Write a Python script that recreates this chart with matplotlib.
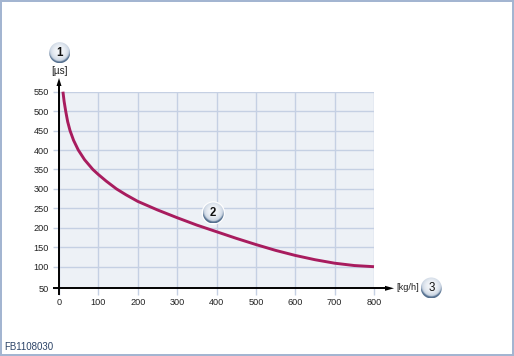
import numpy as np
import matplotlib
matplotlib.use("Agg")
import matplotlib.pyplot as plt
from matplotlib.patches import Circle, Rectangle

x_values = [10, 13, 17, 22, 28, 37, 49, 65, 86, 100, 120, 146, 170, 200, 250, 300, 350, 400, 450, 500, 550, 600, 650, 700, 750, 800]
y_values = [550, 525, 500, 473, 450, 425, 400, 375, 350, 337, 320, 300, 285, 268, 246, 226, 207, 190, 173, 157, 142, 129, 118, 109, 103, 100]
x_ticks = [0, 100, 200, 300, 400, 500, 600, 700, 800]
y_ticks = [100, 150, 200, 250, 300, 350, 400, 450, 500, 550]
y_axis_bottom_label = "50"
x_unit = "[kg/h]"
y_unit = "[µs]"
footer = "FB1108030"
badges = [("1", 59.7, 52.7, "bold"), ("2", 213.3, 213, "bold"), ("3", 431.3, 288, "normal")]

W, H = 514, 356
plt.rcParams["font.family"] = ["Liberation Sans", "DejaVu Sans"]
fig = plt.figure(figsize=(W / 100, H / 100), dpi=100, facecolor="white")

page = fig.add_axes([0, 0, 1, 1], zorder=0)
page.set_xlim(0, W)
page.set_ylim(H, 0)
page.axis("off")
border = "#a3b5d1"
page.add_patch(Rectangle((0, 0), 2, H, color=border, lw=0))
page.add_patch(Rectangle((512, 0), 2, H, color=border, lw=0))
page.add_patch(Rectangle((0, 353.5), W, 2.5, color=border, lw=0))
page.add_patch(Rectangle((0, 0), W, 2, color=border, lw=0))
page.text(4, 346.7, footer, fontsize=7.0, color="#2c4468", ha="left", va="center")

L, R, T, B = 59, 374, 91.7, 288.3
ax = fig.add_axes([L / W, 1 - B / H, (R - L) / W, (B - T) / H], zorder=1)
ax.set_facecolor("#edf1f6")
bottom = 100 - (B - 266.7) / ((266.7 - T) / 450)
ax.set_xlim(0, 800)
ax.set_ylim(bottom, 550)
for s in ax.spines.values():
    s.set_visible(False)

ax.set_xticks(x_ticks)
ax.set_xticklabels([str(t) for t in x_ticks], fontsize=6.6, color="#222222")
ax.set_yticks([bottom] + y_ticks)
ax.set_yticklabels([y_axis_bottom_label] + [str(t) for t in y_ticks], fontsize=6.6, color="#222222")
ax.tick_params(axis="x", length=5, width=1, color="#c5d0e3", pad=2)
ax.tick_params(axis="y", length=4.3, width=1, color="#c5d0e3", pad=2.9)
ax.grid(True, color="#c5d0e3", lw=1)
ax.set_axisbelow(True)
ax.plot(x_values, y_values, color="#a81c5e", lw=2.1, solid_capstyle="butt", solid_joinstyle="round", zorder=3, clip_on=False)

top = fig.add_axes([0, 0, 1, 1], zorder=2)
top.set_xlim(0, W)
top.set_ylim(H, 0)
top.axis("off")
top.patch.set_alpha(0)
top.plot([59, 59], [295, 85], color="black", lw=1.4, solid_capstyle="butt")
top.plot([53, 387], [288.3, 288.3], color="black", lw=1.4, solid_capstyle="butt")
top.fill([59, 56.5, 61.5], [78, 86, 86], color="black", lw=0)
top.fill([394, 385, 385], [288.3, 285.8, 290.8], color="black", lw=0)
top.text(59.5, 70.7, y_unit, fontsize=7.2, color="#222222", ha="center", va="center")
top.text(396.5, 287.7, x_unit, fontsize=6.7, color="#222222", ha="left", va="center")

n = 64
u, v = np.meshgrid(np.linspace(-1, 1, n), np.linspace(-1, 1, n))
shade = np.clip(np.hypot(u, v + 0.15) / 1.15, 0, 1) ** 2.5
rim = np.clip(np.hypot(u, v - 0.0) - 0.78, 0, 1) / 0.22 * np.clip(v + 0.3, 0, 1)
field = np.clip(0.75 * shade + 0.6 * rim, 0, 1)
cmap = matplotlib.colors.LinearSegmentedColormap.from_list("b", ["#f2f5f9", "#c3cfde", "#55708f"])
for label, cx, cy, weight in badges:
    r = 10.5
    top.add_patch(Circle((cx, cy), r + 1.2, color="#ffffff", lw=0, zorder=4))
    im = top.imshow(field, extent=(cx - r, cx + r, cy + r, cy - r), cmap=cmap, vmin=0, vmax=1, zorder=5, aspect="auto")
    im.set_clip_path(Circle((cx, cy), r, transform=top.transData))
    top.text(cx, cy + 0.2, label, fontsize=8.3, fontweight=weight, color="#111111", ha="center", va="center", zorder=7)
top.set_xlim(0, W)
top.set_ylim(H, 0)

fig.savefig("out.png", dpi=100, facecolor="white")
